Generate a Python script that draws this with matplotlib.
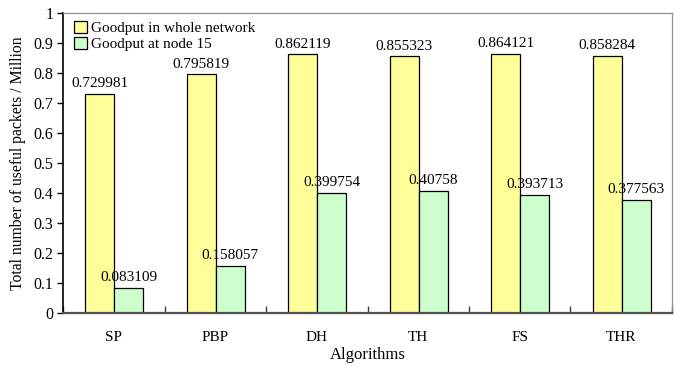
import matplotlib
matplotlib.use("Agg")
import matplotlib.pyplot as plt
import numpy as np
from matplotlib.ticker import FuncFormatter

plt.rcParams['font.family'] = ['Liberation Serif', 'DejaVu Serif']

algorithms = ["SP", "PBP", "DH", "TH", "FS", "THR"]
whole_network = [0.729981, 0.795819, 0.862119, 0.855323, 0.864121, 0.858284]
node15 = [0.083109, 0.158057, 0.399754, 0.40758, 0.393713, 0.377563]
yticks = [0, 0.1, 0.2, 0.3, 0.4, 0.5, 0.6, 0.7, 0.8, 0.9, 1]

fig = plt.figure(figsize=(6.77, 3.67), dpi=100)
ax = fig.add_axes([0.0931, 0.1471, 0.8995, 0.8175])

x = np.arange(len(algorithms))
w = 0.285
off = 0.006
b1 = ax.bar(x - w / 2 + off, whole_network, w, color="#FFFF99", edgecolor="black",
            linewidth=0.9, label="Goodput in whole network")
b2 = ax.bar(x + w / 2 + off, node15, w, color="#CCFFCC", edgecolor="black",
            linewidth=0.9, label="Goodput at node 15")

fs = 11
for rect, v in zip(b1, whole_network):
    ax.text(rect.get_x() + rect.get_width() / 2, v + 0.012, f"{v:g}",
            ha="center", va="bottom", fontsize=fs)
for rect, v in zip(b2, node15):
    ax.text(rect.get_x() + rect.get_width() / 2, v + 0.012, f"{v:g}",
            ha="center", va="bottom", fontsize=fs)

ax.set_xlim(-0.5, 5.5)
ax.set_ylim(0, 1)
ax.set_yticks(yticks)
ax.yaxis.set_major_formatter(FuncFormatter(lambda v, p: f"{v:g}"))
ax.tick_params(axis="y", direction="out", length=4, width=1, labelsize=11.5, pad=3)

ax.set_xticks(x)
ax.set_xticklabels(algorithms)
ax.tick_params(axis="x", which="major", length=0, labelsize=fs, pad=13)
ax.set_xticks(np.arange(-0.5, 6.0, 1.0), minor=True)
ax.tick_params(axis="x", which="minor", direction="in", length=5, width=1, color="#404040")

ax.spines["left"].set_color("black")
ax.spines["left"].set_linewidth(1.2)
ax.spines["bottom"].set_color("#505050")
ax.spines["bottom"].set_linewidth(1.6)
ax.spines["top"].set_color("#909090")
ax.spines["top"].set_linewidth(0.9)
ax.spines["right"].set_color("#909090")
ax.spines["right"].set_linewidth(0.9)

ax.set_xlabel("Algorithms", fontsize=12, labelpad=2)
ax.set_ylabel("Total number of useful packets / Million", fontsize=11.3, labelpad=5)

leg = ax.legend(loc="upper left", bbox_to_anchor=(0.0, 1.01), frameon=False, fontsize=fs,
                handlelength=0.85, handleheight=0.85, handletextpad=0.3,
                labelspacing=0.1, borderaxespad=0.3)

fig.savefig("out.png", dpi=100)
